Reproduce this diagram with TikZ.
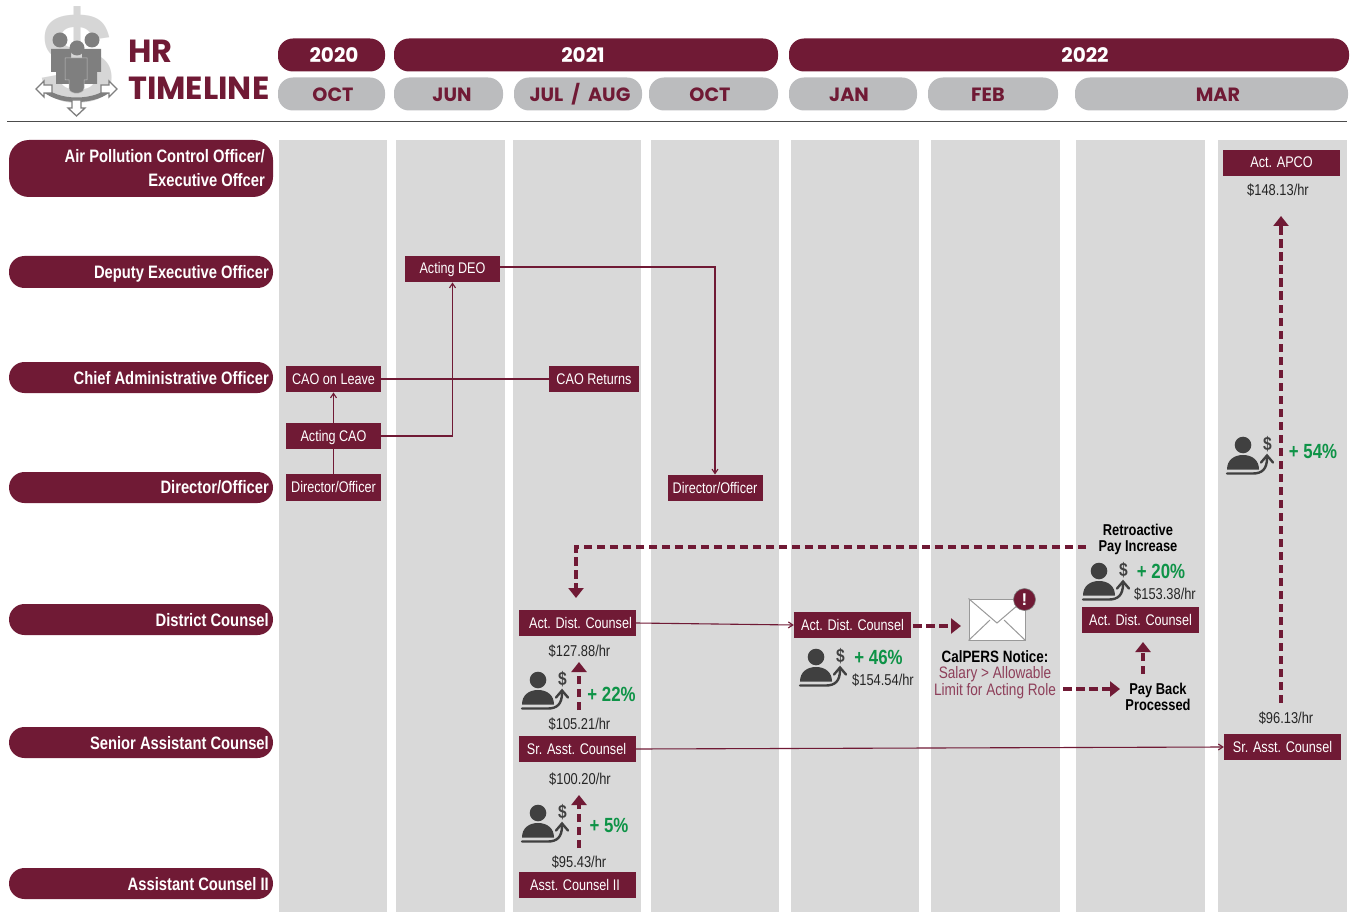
\documentclass[tikz,border=0pt]{standalone}
\usepackage{fontspec}
\setmainfont{Liberation Sans}
\newfontfamily\nar[FakeStretch=0.82]{Liberation Sans}
\newfontfamily\hd{Poppins}
\usetikzlibrary{arrows.meta,calc}
\definecolor{maroon}{HTML}{701A35}
\definecolor{monthgray}{HTML}{BBBCBE}
\definecolor{colgray}{HTML}{D9D9D9}
\definecolor{darkicon}{HTML}{404040}
\definecolor{logogray}{HTML}{7F7F7F}
\definecolor{logolight}{HTML}{D6D6D6}
\definecolor{upgreen}{HTML}{0E9347}
\definecolor{lightmaroon}{HTML}{8E3F5A}
\tikzset{
  column/.style={fill=colgray,draw=none},
  yearpill/.style={fill=maroon,rounded corners=15pt,minimum height=33pt,inner sep=0pt},
  monthpill/.style={fill=monthgray,rounded corners=15pt,minimum height=33pt,inner sep=0pt},
  yeartext/.style={text=white,inner sep=0pt,font=\hd\bfseries\fontsize{20}{22}\selectfont},
  monthtext/.style={text=maroon,inner sep=0pt,font=\hd\bfseries\fontsize{19.2}{22}\selectfont},
  rowpill/.style={fill=maroon,rounded corners=15.5pt},
  rowlabel/.style={text=white,anchor=east,inner sep=0pt,align=right,font=\nar\bfseries\fontsize{18}{24}\selectfont},
  rolebox/.style={fill=maroon,text=white,minimum width=117pt,minimum height=26.5pt,inner sep=0pt,text height=12pt,text depth=2pt,font=\nar\fontsize{15.4}{18}\selectfont},
  wage/.style={text=black!85,inner sep=0pt,font=\nar\fontsize{15.7}{18}\selectfont},
  pct/.style={text=upgreen,inner sep=0pt,font=\nar\bfseries\fontsize{20.5}{22}\selectfont},
  note/.style={text=black,inner sep=0pt,align=center,font=\nar\bfseries\fontsize{15.7}{15.5}\selectfont},
  thinline/.style={draw=maroon,line width=1.1pt},
  thinarrow/.style={thinline,-{Straight Barb[length=4.5pt,width=6pt]}},
  dashline/.style={draw=maroon,line width=3.2pt,dash pattern=on 8.5pt off 4.5pt},
  dasharrow/.style={dashline,-{Triangle[length=10pt,width=15pt]}},
  payicon/.pic={
    \fill[darkicon] (0,0) circle (8.3pt);
    \fill[darkicon] (-16,24.5) .. controls (-16,15) and (-9,10) .. (0,10) .. controls (9,10) and (16,15) .. (16,24.5) -- cycle;
    \draw[darkicon,line width=2.4pt,line cap=round] (-16,28.5) -- (10,28.5) .. controls (19,28.5) and (24,24) .. (24,13);
    \draw[darkicon,line width=2.4pt,line cap=round,line join=miter] (18,17.5) -- (24,10.5) -- (30,17.5);
    \node[text=darkicon,inner sep=0pt,font=\nar\bfseries\fontsize{19}{19}\selectfont] at (24.5,-1) {\$};
  }
}
\begin{document}
\begin{tikzpicture}[x=1pt,y=-1pt]
\useasboundingbox (0,0) rectangle (1350,912);
% columns
\fill[column] (279,140) rectangle (387,912);
\fill[column] (396,140) rectangle (505,912);
\fill[column] (513,140) rectangle (641,912);
\fill[column] (651,140) rectangle (779,912);
\fill[column] (791,140) rectangle (919,912);
\fill[column] (931,140) rectangle (1060,912);
\fill[column] (1076,140) rectangle (1205,912);
\fill[column] (1218,140) rectangle (1347,912);
% logo
\node[text=logolight,inner sep=0pt,font=\bfseries\fontsize{132}{132}\selectfont] (logodollar) at (77,60) {\$};
\fill[logogray] (60,40) circle (7.5pt) (92,40) circle (7.5pt);
\fill[logogray] (51,49) rectangle (71,72) (56,72) rectangle (70,84);
\fill[logogray] (82,49) rectangle (101,72) (83,72) rectangle (97,84);
\draw[black!25,line width=.5pt,fill=logogray] (65,58) -- (87,58) -- (87,80) -- (84,80) -- (84,88) .. controls (84,95) and (69,95) .. (69,88) -- (69,80) -- (65,80) -- cycle;
\fill[logogray] (77,48) circle (7.5pt);
\draw[logogray,line width=4.5pt] (42,87) .. controls (55,104) and (98,104) .. (112,87);
\draw[logogray,line width=1.3pt,fill=white,line join=miter] (36,89) -- (44,81) -- (44,85) -- (52,85) -- (52,93) -- (44,93) -- (44,97) -- cycle;
\draw[logogray,line width=1.3pt,fill=white,line join=miter] (117,89) -- (109,81) -- (109,85) -- (101,85) -- (101,93) -- (109,93) -- (109,97) -- cycle;
\draw[logogray,line width=1.3pt,fill=white,line join=miter] (76.5,116) -- (68,108) -- (72,108) -- (72,100) -- (81,100) -- (81,108) -- (85,108) -- cycle;
\node[text=maroon,anchor=west,inner sep=0pt,font=\hd\bfseries\fontsize{32}{34}\selectfont] (hrtitle) at (128,51) {HR};
\node[text=maroon,anchor=west,inner sep=0pt,font=\hd\bfseries\fontsize{32}{34}\selectfont] (timelinetitle) at (128,88) {TIMELINE};
% header
\node[yearpill,minimum width=107pt] (y2020) at (331.5,55) {};
\node[yearpill,minimum width=384pt] (y2021) at (586,55) {};
\node[yearpill,minimum width=560pt] (y2022) at (1069,55) {};
\node[yeartext] (t2020) at (334,55) {2020};
\node[yeartext] (t2021) at (583,55) {2021};
\node[yeartext] (t2022) at (1085,55) {2022};
\node[monthpill,minimum width=107pt] (moct20) at (331.5,94) {};
\node[monthpill,minimum width=109pt] (mjun) at (448.5,94) {};
\node[monthpill,minimum width=128pt] (mjul) at (578,94) {};
\node[monthpill,minimum width=129pt] (moct21) at (713.5,94) {};
\node[monthpill,minimum width=128pt] (mjan) at (853,94) {};
\node[monthpill,minimum width=130pt] (mfeb) at (993,94) {};
\node[monthpill,minimum width=273pt] (mmar) at (1211.5,94) {};
\node[monthtext] (toct20) at (333,94.6) {OCT};
\node[monthtext] (tjun) at (452,94.6) {JUN};
\node[monthtext] (tjul) at (580,94.6) {JUL\hspace{8pt}/\hspace{8pt}AUG};
\node[monthtext] (toct21) at (710,94.6) {OCT};
\node[monthtext] (tjan) at (849,94.6) {JAN};
\node[monthtext] (tfeb) at (988,94.6) {FEB};
\node[monthtext] (tmar) at (1218,94.6) {MAR};
\draw[black!70,line width=1pt] (7,122) -- (1347,122);
% row pills
\fill[rowpill,rounded corners=20pt] (9,140) rectangle (273,197);
\fill[rowpill] (9,256) rectangle (273,288);
\fill[rowpill] (9,362) rectangle (273,393);
\fill[rowpill] (9,472) rectangle (273,503);
\fill[rowpill] (9,604) rectangle (273,635);
\fill[rowpill] (9,727) rectangle (273,758);
\fill[rowpill] (9,868) rectangle (273,899);
\node[rowlabel] (lapco) at (265,168) {Air Pollution Control Officer/\\Executive Offcer};
\node[rowlabel] (ldeo) at (269,273.5) {Deputy Executive Officer};
\node[rowlabel] (lcao) at (269,378) {Chief Administrative Officer};
\node[rowlabel] (ldir) at (269,487) {Director/Officer};
\node[rowlabel] (ldc) at (269,620) {District Counsel};
\node[rowlabel] (lsac) at (269,743) {Senior Assistant Counsel};
\node[rowlabel] (lac) at (269,884) {Assistant Counsel II};
% thin connectors, under the boxes
\node[rolebox,minimum width=95pt] (caoleave) at (333.5,379) {CAO on Leave};
\node[rolebox,minimum width=95pt] (dir1) at (333.5,487.5) {Director/Officer};
\draw[thinarrow] (dir1.north) -- (caoleave.south);
% role boxes
\node[rolebox,minimum width=95pt] (actcao) at (333.5,436) {Acting CAO};
\node[rolebox,minimum width=95pt] (actdeo) at (452.5,269) {Acting DEO};
\node[rolebox,minimum width=90pt] (caoret) at (594,379) {CAO Returns};
\node[rolebox,minimum width=95pt] (dir2) at (715,488) {Director/Officer};
\node[rolebox] (adc1) at (577.5,623) {\hspace{6pt}Act. Dist. Counsel};
\node[rolebox] (sac1) at (577.5,749) {\hspace*{-2pt}Sr. Asst. Counsel};
\node[rolebox] (ac2) at (577,885) {\hspace*{-4pt}Asst. Counsel II};
\node[rolebox] (adc2) at (852.5,625) {Act. Dist. Counsel};
\node[rolebox] (adc3) at (1140.5,620) {Act. Dist. Counsel};
\node[rolebox] (sac2) at (1282.5,747) {Sr. Asst. Counsel};
\node[rolebox] (apco) at (1281.5,163) {Act. APCO};
% wages
\node[wage] (w14813) at (1278,190.5) {\$148.13/hr};
\node[wage] (w12788) at (579.5,651) {\$127.88/hr};
\node[wage] (w10521) at (579.5,724) {\$105.21/hr};
\node[wage] (w10020) at (580,779) {\$100.20/hr};
\node[wage] (w9543) at (579,862) {\$95.43/hr};
\node[wage] (w15454) at (883,680) {\$154.54/hr};
\node[wage] (w15338) at (1165,594) {\$153.38/hr};
\node[wage] (w9613) at (1286,718) {\$96.13/hr};
% percents
\node[pct] (p22) at (611.5,694) {+ 22\%};
\node[pct] (p5) at (609,825) {+ 5\%};
\node[pct] (p46) at (878.5,657.5) {+ 46\%};
\node[pct] (p20) at (1161,571) {+ 20\%};
\node[pct] (p54) at (1313,451.5) {+ 54\%};
% icons
\pic at (538,680) {payicon};
\pic at (538,813) {payicon};
\pic at (816,657) {payicon};
\pic at (1099,571) {payicon};
\pic at (1243,445) {payicon};
% notes
\node[note] (retro) at (1138,539.5) {Retroactive\\Pay Increase};
\node[note] (payback) at (1158,697) {Pay Back\\Processed};
\node[inner sep=0pt,text=black,font=\nar\bfseries\fontsize{16.4}{16.4}\selectfont] (calpers) at (995,657) {CalPERS Notice:};
\node[inner sep=0pt,text=lightmaroon,align=center,font=\nar\fontsize{16.6}{16.5}\selectfont] (calsub) at (995,682.5) {Salary > Allowable\\Limit for Acting Role};
% envelope
\node[draw=black!40,fill=white,line width=1pt,minimum width=56pt,minimum height=41pt,inner sep=0pt] (env) at (997,619.5) {};
\draw[black!40,line width=1pt] (env.north west) -- (997,623) -- (env.north east);
\draw[black!40,line width=1pt] (env.south west) -- (990,620) (env.south east) -- (1004,620);
\node[circle,fill=maroon,text=white,draw=black!50,line width=.6pt,minimum size=22pt,inner sep=0pt,font=\bfseries\fontsize{17}{17}\selectfont] (alert) at (1024.5,599.5) {!};
% helper coordinates
\coordinate (retroleft) at (1086,547);
\coordinate (adc1tip) at (576,598);
\coordinate (w9613top) at (1281,703);
\coordinate (apcotip) at (1281,216);
\coordinate (calend) at (1063,689);
\coordinate (paystart) at (1120,689);
\coordinate (pbup) at (1143,674);
\coordinate (pbtip) at (1143,642);
\coordinate (a22s) at (579,710);
\coordinate (a22e) at (579,662);
\coordinate (a5s) at (579,848);
\coordinate (a5e) at (579,795);
\coordinate (envtip) at (961,626);
% thin connectors
\draw[thinarrow] (actcao.east) -| (actdeo.south);
\draw[thinline] (caoleave.east) -- (caoret.west);
\draw[thinarrow] ([yshift=2pt]actdeo.east) -| (dir2.north);
\draw[thinarrow] (adc1.east) -- (adc2.west);
\draw[thinarrow] (sac1.east) -- (sac2.west);
% dashed connectors
\draw[dasharrow] (retroleft) -| (adc1tip);
\draw[dasharrow] ([xshift=2pt,yshift=-1pt]adc2.east) -- (envtip);
\draw[dasharrow] (calend) -- (paystart);
\draw[dasharrow] (pbup) -- (pbtip);
\draw[dasharrow] (w9613top) -- (apcotip);
\draw[dasharrow] (a22s) -- (a22e);
\draw[dasharrow] (a5s) -- (a5e);
\end{tikzpicture}
\end{document}
